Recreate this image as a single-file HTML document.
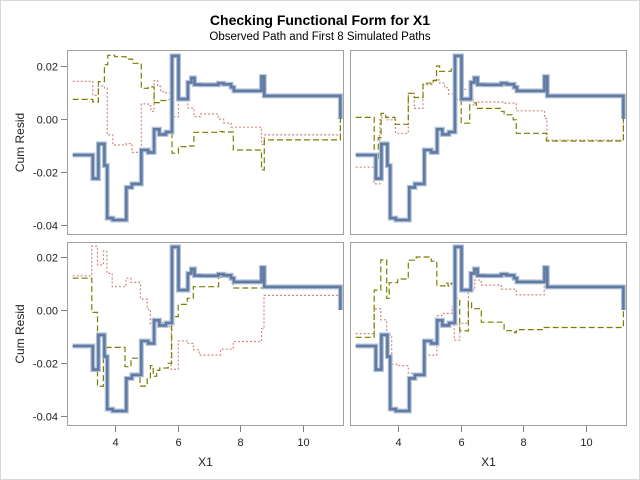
<!DOCTYPE html>
<html><head><meta charset="utf-8"><style>
body{margin:0;background:#fff}
svg{display:block;font-family:"Liberation Sans",sans-serif}
</style></head><body>
<svg id="c" width="640" height="480" viewBox="0 0 640 480">
<rect x="0.5" y="0.5" width="639" height="479" fill="#fff" stroke="#d8d8d8"/>
<text x="320" y="25" text-anchor="middle" font-size="14" font-weight="bold">Checking Functional Form for X1</text>
<text x="320" y="40" text-anchor="middle" font-size="11.5">Observed Path and First 8 Simulated Paths</text>
<g id="plots"></g>
</svg>
<script>
const blueX=[2.65,3.29,3.47,3.66,3.75,3.93,4.36,4.54,4.84,5.06,5.25,5.42,5.63,5.82,6.03,6.33,6.44,6.54,6.73,7.30,7.47,7.71,7.80,8.68,8.77];
const blueY=[-0.0136,-0.0225,-0.0094,-0.0176,-0.0374,-0.0381,-0.0258,-0.0245,-0.0117,-0.0126,-0.0039,-0.0058,-0.0049,0.0238,0.0075,0.0138,0.0155,0.0130,0.0129,0.0135,0.0131,0.0120,0.0106,0.016,0.0087];
const tlGreenX=[2.65,3.29,3.47,3.66,3.77,3.99,4.35,4.56,4.84,5.06,5.25,5.42,5.63,5.82,6.03,6.33,6.52,7.30,7.43,7.78,8.68,8.77];
const tlGreenY=[0.0074,0.0064,0.0141,0.0205,0.024,0.0235,0.0226,0.021,0.0116,0.0121,0.0062,0.007,0.0073,-0.0129,-0.0104,-0.0102,-0.005,-0.0047,-0.0049,-0.0117,-0.0192,-0.0079];
const tlRedX=[2.65,3.29,3.47,3.66,3.75,3.93,4.36,4.54,4.84,5.06,5.15,5.25,5.36,5.46,5.63,5.82,6.03,6.33,6.52,6.73,7.30,7.47,7.71,8.68,8.77];
const tlRedY=[0.0142,0.0089,0.0125,0.0117,-0.006,-0.0098,-0.0093,-0.0126,0.0057,0.005,0.0029,0.0145,0.0123,0.0103,0.0098,0.0009,0.0082,0.0041,0.0009,0.0019,0,-0.0015,-0.0031,-0.0096,-0.006];
const trGreenX=[2.65,3.24,3.37,3.46,3.61,3.90,4.33,4.52,4.80,5.12,5.23,5.33,5.70,5.80,6.02,6.29,6.40,6.50,7.30,7.39,7.68,7.78,8.74];
const trGreenY=[0.0006,-0.0148,-0.007,0.0021,0.0006,-0.002,0.0097,0.0081,0.0135,0.0145,0.020,0.018,0.0188,0.0074,-0.0016,0.0073,0.0061,0.004,0.0029,0.0016,-0.0003,-0.0054,-0.0083];
const trRedX=[2.65,3.24,3.42,3.63,3.92,4.33,4.52,4.80,5.12,5.33,5.49,5.62,5.80,6.02,6.29,6.50,7.39,7.78,8.68,8.76];
const trRedY=[-0.0182,-0.0245,0.0005,-0.0003,-0.0054,0.0097,0.004,0.013,0.0147,0.0135,0.0118,0.0094,0.0185,0.0112,0.0053,0.0064,0.006,0.0031,0.0002,-0.008];
const blGreenX=[2.65,3.26,3.44,3.63,3.74,4.32,4.51,4.80,5.03,5.13,5.22,5.33,5.43,5.70,5.81,6.02,6.31,6.50,7.31,7.78,8.76];
const blGreenY=[0.012,-0.0009,-0.0288,-0.0151,-0.0141,-0.0214,-0.0182,-0.0287,-0.026,-0.021,-0.025,-0.0228,-0.0219,-0.0201,-0.0025,0.0021,0.0044,0.0088,0.0123,0.0083,0.0086];
const blRedX=[2.65,3.26,3.44,3.63,3.74,3.91,4.35,4.51,4.81,5.03,5.13,5.22,5.43,5.62,5.80,6.02,6.34,6.50,6.69,7.37,7.78,8.68,8.76];
const blRedY=[0.0129,0.0241,0.017,0.0222,0.0138,0.0088,0.012,0.0104,0.0041,0.0003,-0.0057,-0.0032,-0.0047,-0.0063,-0.0224,-0.0117,-0.0126,-0.015,-0.017,-0.0148,-0.0119,-0.0071,0.0055];
const brGreenX=[2.65,3.24,3.45,3.64,3.72,3.99,4.33,4.58,5.06,5.24,5.50,5.60,5.70,5.86,5.97,6.25,6.35,6.66,7.39,7.73,7.78,8.67];
const brGreenY=[-0.0103,0.0075,0.0189,0.0044,0.0103,0.0117,0.0188,0.020,0.0184,0.0091,0.0101,0.009,0.0101,0.0044,-0.0079,0.003,0.0005,-0.0046,-0.0078,-0.0086,-0.0074,-0.0066];
const brRedX=[2.65,3.24,3.45,3.64,3.80,3.96,4.33,4.78,5.24,5.40,5.73,5.80,5.97,6.25,6.45,6.66,7.30,7.78,8.67];
const brRedY=[-0.0089,0.0004,-0.0037,-0.0094,-0.0205,-0.021,-0.0239,-0.017,-0.0021,-0.0013,0.0013,-0.0114,-0.005,0.0075,0.0113,0.0094,0.0079,0.0057,0.0094];
const xTicks=[4,6,8,10];
const yTicks=[0.02,0,-0.02,-0.04];
const yTickLabels=["0.02","0.00","-0.02","-0.04"];
const xEnd=11.2;

const NS="http://www.w3.org/2000/svg";
const root=document.getElementById('plots');
function mk(tag,attrs,parent){const e=document.createElementNS(NS,tag);for(const k in attrs)e.setAttribute(k,attrs[k]);(parent||root).appendChild(e);return e;}
const panels=[
 {id:'top-left',x0:67,x1:344,y0:50,y1:235,zero:119,g:[tlGreenX,tlGreenY],r:[tlRedX,tlRedY],yax:true,xax:false},
 {id:'top-right',x0:350,x1:627,y0:50,y1:235,zero:119,g:[trGreenX,trGreenY],r:[trRedX,trRedY],yax:false,xax:false},
 {id:'bottom-left',x0:67,x1:344,y0:242,y1:426,zero:310,g:[blGreenX,blGreenY],r:[blRedX,blRedY],yax:true,xax:true},
 {id:'bottom-right',x0:350,x1:627,y0:242,y1:426,zero:310,g:[brGreenX,brGreenY],r:[brRedX,brRedY],yax:false,xax:true}
];
panels.forEach(p=>{
 const sx=v=>p.x0+(v-4)*31.3+48;
 const sy=v=>p.zero-v/0.02*53;
 const g=mk('g',{});
 
 
 const cp=mk('clipPath',{id:'cp-'+p.id},g);
 mk('rect',{x:p.x0,y:p.y0,width:p.x1-p.x0,height:p.y1-p.y0},cp);
 function path(xs,ys){let d='M'+sx(xs[0]).toFixed(1)+','+sy(ys[0]).toFixed(1);
  for(let i=1;i<xs.length;i++){d+='H'+sx(xs[i]).toFixed(1)+'V'+sy(ys[i]).toFixed(1);}
  d+='H'+sx(xEnd).toFixed(1)+'V'+sy(0).toFixed(1);return d;}
 const lines=mk('g',{'clip-path':'url(#cp-'+p.id+')'},g);
 const rp=mk('path',{d:path(p.r[0],p.r[1]),fill:'none',stroke:'#d08a80','stroke-width':1.2,'stroke-dasharray':'2,2'},lines);
 
 
 const gp=mk('path',{d:path(p.g[0],p.g[1]),fill:'none',stroke:'#7a7f00','stroke-width':1.2,'stroke-dasharray':'6,3'},lines);
 
 
 const bd=path(blueX,blueY);
 const bh=mk('path',{d:bd,fill:'none',stroke:'#b4c2d8','stroke-width':5},lines);
 
 
 const bp=mk('path',{d:bd,fill:'none',stroke:'#5f7aa3','stroke-width':2.6},lines);
 
 
 const fr=mk('rect',{x:p.x0+0.5,y:p.y0+0.5,width:p.x1-p.x0-1,height:p.y1-p.y0-1,fill:'none',stroke:'#a0a0a0'},g);
 
 
 if(p.yax){
  yTicks.forEach((t,i)=>{const y=Math.round(sy(t))+0.5;
   mk('line',{x1:p.x0-6,x2:p.x0,y1:y,y2:y,stroke:'#808080'},g);
   const tx=mk('text',{x:p.x0-9,y:y+4,'text-anchor':'end','font-size':11,fill:'#222'},g);
   tx.textContent=yTickLabels[i];
   
   });
  const yc=(p.y0+p.y1)/2;
  const yl=mk('text',{x:24,y:yc,'text-anchor':'middle','font-size':12,transform:'rotate(-90 24 '+yc+')',fill:'#222'},g);
  yl.textContent='Cum Resid';
  
  
 }
 if(p.xax){
  xTicks.forEach(t=>{const x=Math.round(sx(t))+0.5;
   mk('line',{x1:x,x2:x,y1:p.y1,y1:p.y1,y2:p.y1+6,stroke:'#808080'},g);
   const tx=mk('text',{x:x,y:p.y1+20,'text-anchor':'middle','font-size':11,fill:'#222'},g);
   tx.textContent=String(t);
   
   });
  const xl=mk('text',{x:(p.x0+p.x1)/2,y:466,'text-anchor':'middle','font-size':12,fill:'#222'},g);
  xl.textContent='X1';
  
  
 }
});
</script>
</body></html>
